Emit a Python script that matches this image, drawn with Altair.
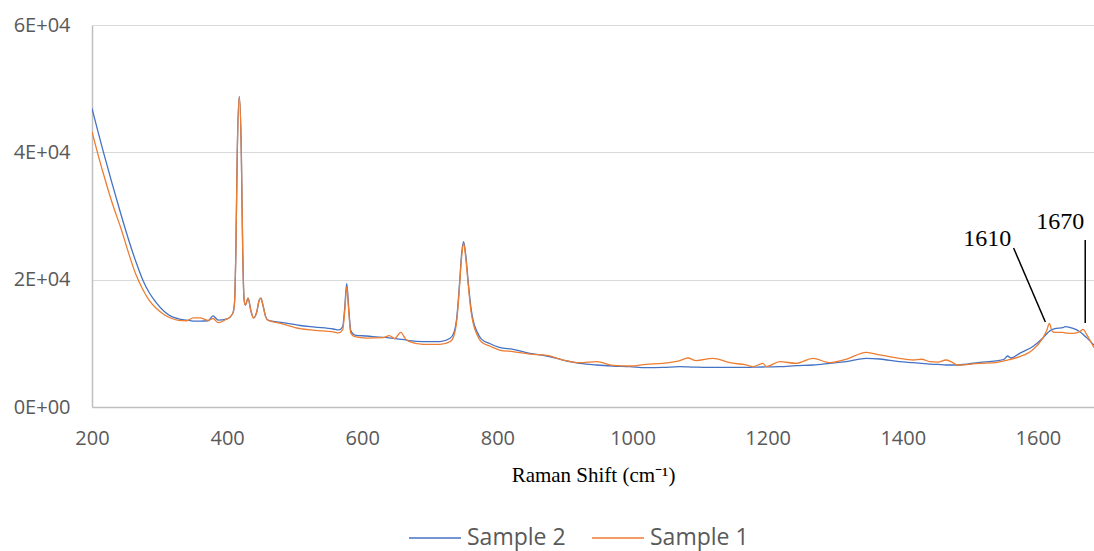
import altair as alt
import pandas as pd

# Raman shift positions (cm-1) shared by both spectra
shift = [200, 208, 217, 230, 243, 255, 265, 275, 285, 295, 307, 318, 328, 340,
         350, 360, 372, 379, 387, 399, 405, 409, 411, 413, 415, 418, 421, 423, 425,
         427, 431, 435, 439, 444, 447, 450, 453, 457, 461, 480, 508, 530, 557, 565,
         571, 574, 577, 580, 583, 589, 606, 631, 640, 648, 657, 664, 670, 690, 715,
         730, 736, 740, 744, 747, 750, 753, 757, 761, 764, 770, 776, 790, 803, 823,
         848, 873, 897, 922, 947, 971, 996, 1020, 1045, 1070, 1082, 1094, 1119, 1144, 1168,
         1178, 1193, 1198, 1218, 1242, 1267, 1292, 1316, 1346, 1366, 1395, 1415, 1428, 1440, 1452,
         1464, 1472, 1481, 1514, 1538, 1550, 1555, 1560, 1573, 1592, 1607, 1613, 1617, 1621, 1625,
         1637, 1640, 1652, 1662, 1667, 1672, 1683]

sample2 = [46900, 43600, 40000, 35000, 30200, 26000, 22800, 20000, 17900, 16400, 15000, 14200, 13850, 13650,
           13500, 13500, 13550, 14300, 13650, 13800, 14200, 14900, 16500, 25000, 40000, 48800, 40000, 25000, 17000,
           16000, 17100, 15200, 14000, 15000, 16600, 17100, 16000, 14200, 13600, 13300, 12800, 12550, 12250, 12100,
           12600, 15500, 19400, 15500, 12000, 11300, 11150, 10940, 10850, 10750, 10630, 10530, 10420, 10260, 10260,
           10790, 11800, 14180, 19430, 24000, 25960, 24000, 19430, 15500, 13650, 11800, 10700, 9900, 9370, 9060,
           8430, 8010, 7380, 6860, 6600, 6440, 6330, 6180, 6220, 6330, 6300, 6250, 6220, 6220, 6220,
           6250, 6280, 6300, 6330, 6490, 6600, 6860, 7120, 7650, 7540, 7120, 6960, 6850, 6750, 6680,
           6600, 6600, 6600, 7020, 7230, 7500, 8010, 7700, 8430, 9470, 10790, 11500, 11900, 12150, 12300,
           12460, 12610, 12350, 11830, 11400, 10900, 9700]

sample1 = [43240, 40000, 36600, 32000, 28000, 23900, 20800, 18500, 16700, 15500, 14500, 13900, 13600, 13550,
           14000, 14000, 13600, 13900, 13250, 13800, 14200, 14900, 16500, 25000, 40000, 48800, 40000, 25000, 17000,
           16000, 17100, 15200, 14000, 15000, 16600, 17100, 16000, 14200, 13600, 13100, 12300, 12050, 11800, 11650,
           12100, 15000, 18900, 15000, 11600, 11040, 10830, 10900, 11200, 10750, 11730, 10700, 10260, 9840, 9840,
           10260, 11300, 13700, 19000, 23500, 25700, 23600, 19000, 15000, 13200, 11300, 10250, 9500, 8950, 8690,
           8320, 8110, 7380, 6960, 7120, 6540, 6440, 6700, 6860, 7280, 7700, 7280, 7650, 6960, 6600,
           6330, 6860, 6330, 7120, 6860, 7650, 6960, 7490, 8590, 8170, 7650, 7380, 7500, 7120, 7050,
           7380, 7100, 6600, 6860, 6960, 7250, 7380, 7500, 7910, 8950, 10790, 12000, 13150, 11900, 11730,
           11730, 11650, 11570, 11830, 12200, 11400, 9300]

series_names = ["Sample 2", "Sample 1"]
series_colors = ["#4472C4", "#ED7D31"]

# Annotated band positions and their leader lines
ann_labels = ["1610", "1670"]
ann_text_x = [1525, 1633]
ann_text_y = [25330, 27910]
ann_line_x = [1564, 1670]
ann_line_y = [24970, 26230]
ann_line_x2 = [1611, 1670]
ann_line_y2 = [13350, 13190]

rows = []
for name, values in zip(series_names, [sample2, sample1]):
    for x, v in zip(shift, values):
        rows.append({"shift": x, "intensity": v, "series": name})
spectra = pd.DataFrame(rows)

ann = pd.DataFrame({
    "label": ann_labels,
    "tx": ann_text_x, "ty": ann_text_y,
    "lx": ann_line_x, "ly": ann_line_y,
    "lx2": ann_line_x2, "ly2": ann_line_y2,
})

x_scale = alt.Scale(domain=[200, 1683], nice=False, zero=False)
y_scale = alt.Scale(domain=[0, 60000], nice=False)

x_axis = alt.Axis(
    values=[200, 400, 600, 800, 1000, 1200, 1400, 1600],
    format="d", labelFlush=False,
    title="Raman Shift (cm⁻¹)",
    grid=False, ticks=False,
    domainColor="#BFBFBF", domainWidth=1.5,
    labelFont="Open Sans", labelFontSize=20, labelColor="#595959", labelPadding=21,
    titleFont="Liberation Serif", titleFontSize=21, titleFontWeight="normal",
    titleColor="#000000", titleBaseline="alphabetic", titleY=74,
)
y_axis = alt.Axis(
    values=[0, 20000, 40000, 60000],
    labelExpr="datum.value == 0 ? '0E+00' : format(datum.value / 10000, 'd') + 'E+04'",
    title=None,
    grid=True, gridColor="#D9D9D9", gridWidth=1,
    ticks=False, labelFlush=False,
    domainColor="#BFBFBF", domainWidth=1.5,
    labelFont="Open Sans", labelFontSize=20, labelColor="#595959", labelPadding=22,
)

lines = alt.Chart(spectra).mark_line(strokeWidth=1.3, interpolate="monotone", clip=True).encode(
    x=alt.X("shift:Q", scale=x_scale, axis=x_axis),
    y=alt.Y("intensity:Q", scale=y_scale, axis=y_axis),
    color=alt.Color(
        "series:N",
        scale=alt.Scale(domain=series_names, range=series_colors),
        legend=alt.Legend(
            orient="none", legendX=316, legendY=486, direction="horizontal",
            title=None, symbolType="stroke", symbolSize=2704, symbolStrokeWidth=1.5,
            labelFont="Open Sans", labelFontSize=23, labelColor="#595959",
            labelOffset=5, columnPadding=23, padding=0,
        ),
    ),
)

leaders = alt.Chart(ann).mark_rule(color="black", strokeWidth=1.5).encode(
    x=alt.X("lx:Q", scale=x_scale), y=alt.Y("ly:Q", scale=y_scale),
    x2="lx2:Q", y2="ly2:Q",
)

labels = alt.Chart(ann).mark_text(
    font="Liberation Serif", fontSize=24, color="black", baseline="alphabetic", align="center"
).encode(
    x=alt.X("tx:Q", scale=x_scale), y=alt.Y("ty:Q", scale=y_scale), text="label:N",
)

chart = alt.layer(lines, leaders, labels).properties(
    width=1002, height=382,
    padding={"left": 92, "top": 25, "right": 0, "bottom": 144},
    autosize=alt.AutoSizeParams(type="none"),
).configure_view(stroke=None)

chart.save("out.html", embed_options={"renderer": "svg", "actions": False})
